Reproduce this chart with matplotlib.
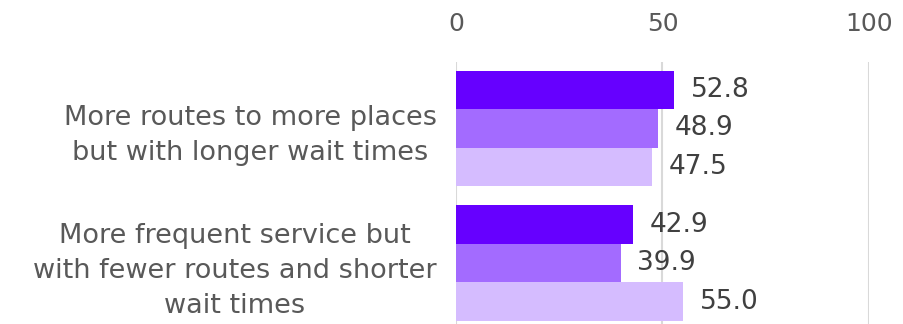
import numpy as np
import matplotlib.pyplot as plt

categories = ["More routes to more places\nbut with longer wait times",
              "More frequent service but\nwith fewer routes and shorter\nwait times"]
series_a = [52.8, 42.9]
series_b = [48.9, 39.9]
series_c = [47.5, 55.0]
colors = ["#6600FF", "#A36BFF", "#D5BCFF"]
ticks = [0, 50, 100]

plt.rcParams['font.family'] = 'DejaVu Sans'

fig = plt.figure(figsize=(9.04, 3.24), dpi=100)
ax = fig.add_axes([0.5044, 0.0, 0.4569, 0.8086])

y = np.arange(len(categories))
h = 0.286
for i, (vals, c) in enumerate(zip([series_a, series_b, series_c], colors)):
    pos = y + (i - 1) * h
    ax.barh(pos, vals, height=h, color=c, zorder=3)
    for p, v in zip(pos, vals):
        ax.text(v + 4, p, f"{v:.1f}", va='center', ha='left',
                fontsize=19, color='#404040')

ax.set_xlim(0, 100)
ax.set_ylim(1.453, -0.494)
ax.set_xticks(ticks)
ax.xaxis.tick_top()
ax.tick_params(axis='x', length=0, pad=19, labelsize=18, labelcolor='#595959')
ax.set_yticks(y)
ax.set_yticklabels(categories, fontsize=19.5, color='#595959',
                   multialignment='center', linespacing=1.45)
ax.tick_params(axis='y', length=0, pad=14)
ax.grid(axis='x', color='#D9D9D9', linewidth=1.5, zorder=0)
for s in ax.spines.values():
    s.set_visible(False)

fig.savefig("out.png", dpi=100)
